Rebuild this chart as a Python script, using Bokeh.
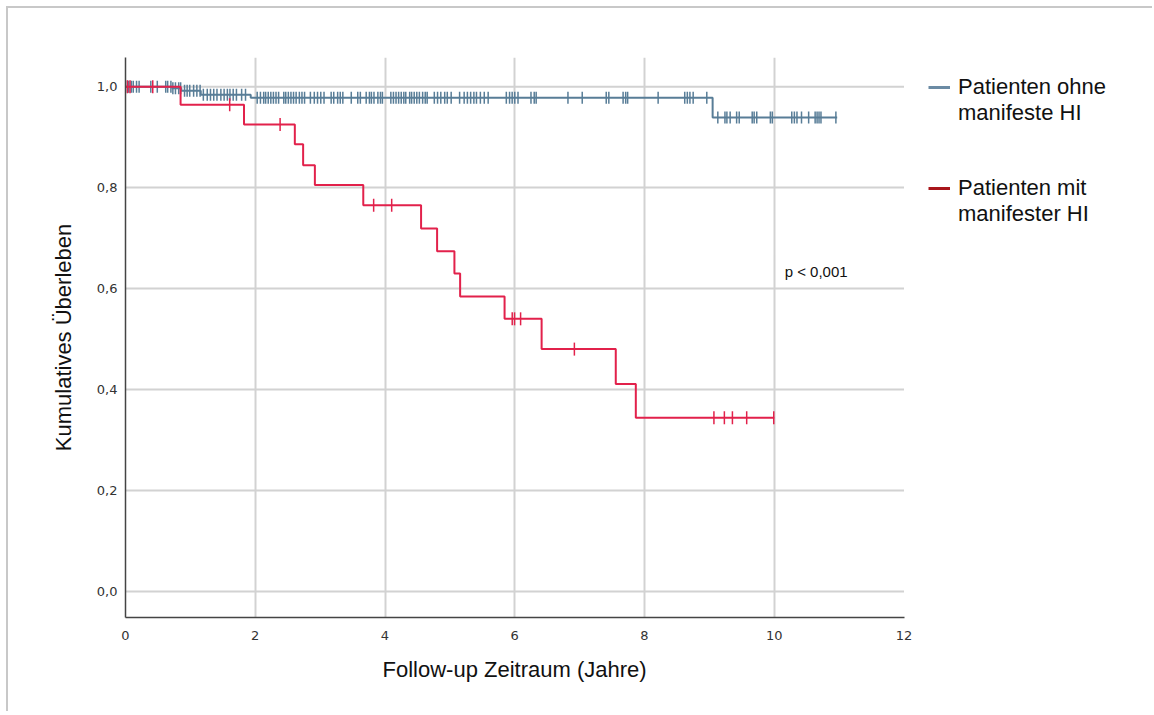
import numpy as np
from bokeh.plotting import figure
from bokeh.models import (Range1d, FixedTicker, CustomJSTickFormatter, Label, Legend,
                          LegendItem, Title)
from bokeh.embed import file_html
from bokeh.resources import INLINE

# ---------------- data ----------------
x_ticks = [0, 2, 4, 6, 8, 10, 12]
y_ticks = [0.0, 0.2, 0.4, 0.6, 0.8, 1.0]

x_label = "Follow-up Zeitraum (Jahre)"
y_label = "Kumulatives Überleben"
legend_lines = [["Patienten ohne", "manifeste HI"], ["Patienten mit", "manifester HI"]]

# Patienten ohne manifeste HI (blue)
blue_event_t = [0.72, 0.86, 1.16, 1.93, 9.05]
blue_event_s = [0.997, 0.992, 0.984, 0.978, 0.939]
blue_end_t = 10.97
blue_censor_t = [0.03, 0.05, 0.09, 0.12, 0.17, 0.21, 0.39, 0.49, 0.62, 0.65, 0.70, 0.73, 0.77,
                 0.82, 0.85, 0.91, 0.95, 0.99, 1.05, 1.10, 1.15, 1.20, 1.26, 1.31, 1.36, 1.41,
                 1.47, 1.52, 1.57, 1.61, 1.66, 1.71, 1.79, 1.85, 2.03, 2.08, 2.13, 2.16, 2.20,
                 2.24, 2.28, 2.32, 2.36, 2.44, 2.47, 2.51, 2.55, 2.59, 2.63, 2.68, 2.72, 2.76,
                 2.85, 2.91, 2.96, 3.01, 3.06, 3.17, 3.21, 3.27, 3.31, 3.35, 3.48, 3.58, 3.62,
                 3.71, 3.76, 3.79, 3.83, 3.89, 3.93, 3.96, 4.09, 4.13, 4.17, 4.21, 4.25, 4.29,
                 4.32, 4.38, 4.41, 4.45, 4.49, 4.53, 4.58, 4.62, 4.65, 4.76, 4.81, 4.86, 4.92,
                 4.96, 5.02, 5.15, 5.22, 5.27, 5.32, 5.37, 5.41, 5.47, 5.53, 5.59, 5.87, 5.92,
                 5.96, 6.00, 6.05, 6.25, 6.30, 6.33, 6.82, 7.04, 7.41, 7.45, 7.67, 7.71, 7.74,
                 8.21, 8.62, 8.66, 8.70, 8.75, 8.96, 9.13, 9.24, 9.27, 9.32, 9.42, 9.46, 9.66,
                 9.69, 9.73, 9.94, 9.97, 10.27, 10.31, 10.35, 10.42, 10.53, 10.63, 10.66, 10.69,
                 10.72, 10.95]

# Patienten mit manifester HI (red)
red_event_t = [0.849, 1.827, 2.610, 2.738, 2.919, 3.665, 4.556, 4.803, 5.070, 5.158, 5.843,
               6.414, 7.557, 7.866]
red_event_s = [0.964, 0.925, 0.886, 0.844, 0.805, 0.765, 0.719, 0.674, 0.630, 0.584, 0.540,
               0.480, 0.411, 0.344]
red_end_t = 10.0
red_censor_t = [0.03, 0.07, 0.42, 1.606, 2.383, 3.825, 4.103, 5.961, 5.997, 6.090, 6.919,
                9.070, 9.231, 9.355, 9.575, 9.992]

p_text = "p < 0,001"

BLUE = "#587d97"
RED = "#e2214b"
BLUE_LEG = "#6b8ba4"
RED_LEG = "#a8161b"
FONT = "Liberation Sans"
GRID = "#d2d2d2"

X_MAX = 12
X_VIEW = 1027 * 12 / 777  # frame extends right to host the legend


def step_xy(ev_t, ev_s, end_t):
    xs = [0.0] + list(ev_t) + [end_t]
    ys = [1.0] + list(ev_s) + [ev_s[-1]]
    return xs, ys


def surv_at(ts, ev_t, ev_s):
    out = []
    for t in ts:
        s = 1.0
        for et, es in zip(ev_t, ev_s):
            if et <= t:
                s = es
        out.append(s)
    return out


p = figure(width=1146, height=705, output_backend="svg", toolbar_location=None,
           x_range=Range1d(0, X_VIEW), y_range=Range1d(-0.0517, 1.0577),
           min_border_left=117, min_border_right=0, min_border_top=49, min_border_bottom=96)
p.styles = {"border-top": "2px solid #c8c8c8", "border-left": "2px solid #c8c8c8",
            "margin-left": "6px", "margin-top": "6px"}
p.outline_line_color = None
p.background_fill_color = "white"
p.border_fill_color = "white"

# grid
p.xgrid.ticker = FixedTicker(ticks=x_ticks[1:-1])
p.xgrid.grid_line_color = GRID
p.xgrid.grid_line_width = 2
p.ygrid.grid_line_color = None
p.segment(x0=[x_ticks[0]] * len(y_ticks), x1=[x_ticks[-1]] * len(y_ticks),
          y0=y_ticks, y1=y_ticks, line_color=GRID, line_width=2)

# axes
p.xaxis.ticker = FixedTicker(ticks=x_ticks)
p.xaxis.bounds = (0, X_MAX)
p.yaxis.ticker = FixedTicker(ticks=y_ticks)
p.yaxis.formatter = CustomJSTickFormatter(code="return tick.toFixed(1).replace('.', ',');")
for ax in (p.xaxis, p.yaxis):
    ax.axis_line_color = "#444444"
    ax.axis_line_width = 1.5
    ax.major_tick_line_color = None
    ax.minor_tick_line_color = None
    ax.major_tick_out = 0
    ax.major_tick_in = 0
    ax.minor_tick_out = 0
    ax.major_label_text_font = "DejaVu Sans"
    ax.major_label_text_font_size = "13px"
    ax.major_label_text_color = "#333333"
    ax.axis_label_text_font = FONT
    ax.axis_label_text_font_style = "normal"
    ax.axis_label_text_font_size = "22px"
    ax.axis_label_text_color = "#111111"
p.yaxis.axis_label = y_label
p.xaxis.major_label_standoff = 13
p.yaxis.major_label_standoff = 8
p.yaxis.axis_label_standoff = 18

# x-axis title centred under the 0..12 axis (the frame itself is wider)
p.add_layout(Title(text=x_label, align="left", offset=257, text_font=FONT,
                   text_font_size="22px", text_font_style="normal", text_color="#111111",
                   standoff=24), "below")

# curves
bx, by = step_xy(blue_event_t, blue_event_s, blue_end_t)
rx, ry = step_xy(red_event_t, red_event_s, red_end_t)
p.step(bx, by, mode="after", line_color=BLUE, line_width=2)
p.scatter(blue_censor_t, surv_at(blue_censor_t, blue_event_t, blue_event_s), marker="dash",
          angle=np.pi / 2, size=12, line_color=BLUE, line_width=1.5)
p.step(rx, ry, mode="after", line_color=RED, line_width=2)
p.scatter(red_censor_t, surv_at(red_censor_t, red_event_t, red_event_s), marker="dash",
          angle=np.pi / 2, size=13, line_color=RED, line_width=1.5)

# legends (dummy renderers carry the legend colours; nothing visible is drawn)
lb = p.line([np.nan], [np.nan], line_color=BLUE_LEG, line_width=3)
lr = p.line([np.nan], [np.nan], line_color=RED_LEG, line_width=3)
lnone = p.line([np.nan], [np.nan], line_color="white", line_alpha=0)


def make_legend(lines, rend, loc):
    lg = Legend(items=[LegendItem(label=lines[0], renderers=[rend]),
                       LegendItem(label=lines[1], renderers=[lnone])],
                location=loc, orientation="vertical")
    lg.border_line_color = None
    lg.background_fill_alpha = 0
    lg.padding = 0
    lg.margin = 0
    lg.spacing = 0
    lg.glyph_width = 22
    lg.glyph_height = 26
    lg.label_height = 26
    lg.label_standoff = 8
    lg.label_text_font = FONT
    lg.label_text_font_size = "22px"
    lg.label_text_color = "#111111"
    lg.label_text_baseline = "middle"
    return lg


p.add_layout(make_legend(legend_lines[0], lb, (803, 491)))
p.add_layout(make_legend(legend_lines[1], lr, (803, 390)))

p.add_layout(Label(x=10.16, y=0.634, text=p_text, text_font=FONT, text_font_size="15px",
                   text_baseline="middle", text_align="left", text_color="#111111"))

open("out.html", "w").write(file_html(p, INLINE))
